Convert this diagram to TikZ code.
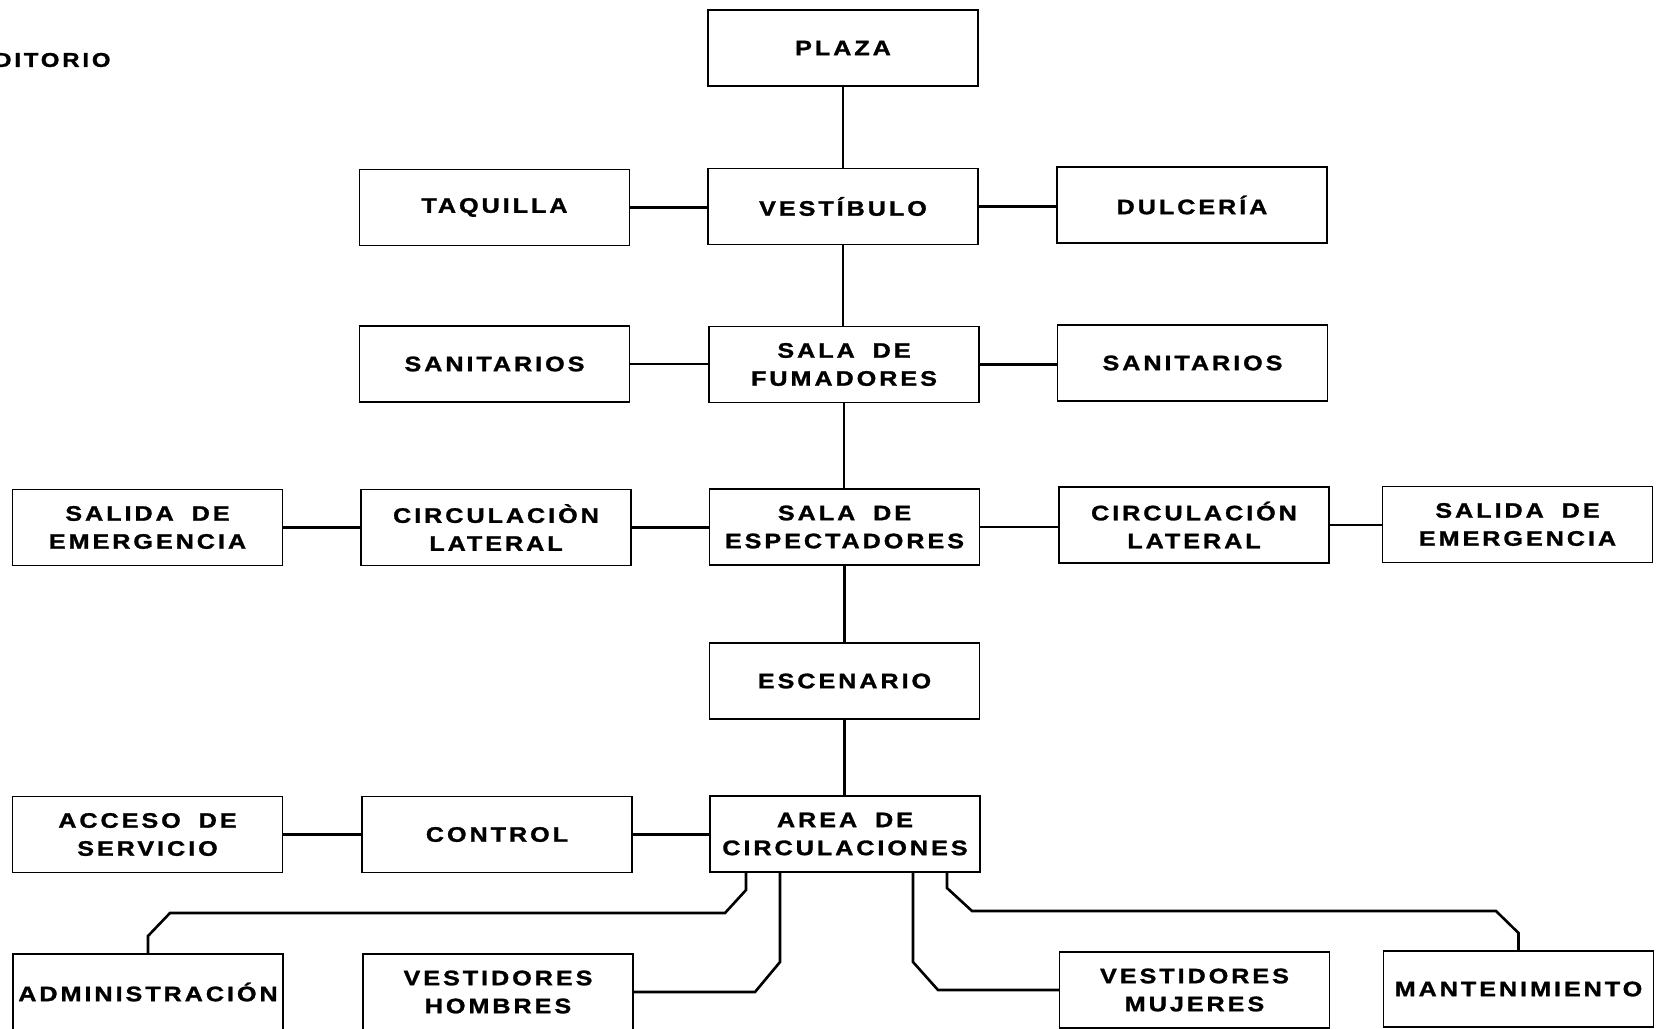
\documentclass[tikz,border=0pt]{standalone}
\usepackage{fontspec}
\newfontfamily\lblfont[LetterSpace=14, FakeStretch=1.2, FakeBold=1.3, WordSpace=1.8]{Liberation Sans Bold}
\usetikzlibrary{calc}
\begin{document}
\begin{tikzpicture}[x=1pt,y=-1pt,
  box/.style={draw=black, line width=1.3pt, minimum width=270pt, minimum height=76pt, inner sep=0pt, align=center,
    font=\lblfont\fontsize{21}{28}\selectfont},
  conn/.style={draw=black, line width=2.6pt, line join=miter}]
\useasboundingbox (0,0) rectangle (1662,1028);
\fill[white] (0,0) rectangle (1662,1028);

\node[anchor=west, inner sep=0pt, font=\lblfont\fontsize{20}{28}\selectfont] (title) at (-6,60) {DITORIO};

\node[box] (plaza) at (843,48) {PLAZA};
\node[box] (vest) at (843,206.5) {VESTÍBULO};
\node[box] (taq) at (494.5,207.5) {TAQUILLA};
\node[box] (dulc) at (1192,205) {DULCERÍA};
\node[box] (sanl) at (494.5,364) {SANITARIOS};
\node[box] (fum) at (844,364.5) {SALA DE\\FUMADORES};
\node[box] (sanr) at (1192.5,363) {SANITARIOS};
\node[box] (sall) at (147.5,527.5) {SALIDA DE\\EMERGENCIA};
\node[box] (circl) at (496,527.5) {CIRCULACIÒN\\LATERAL};
\node[box] (esp) at (844.5,527) {SALA DE\\ESPECTADORES};
\node[box] (circr) at (1194,525) {CIRCULACIÓN\\LATERAL};
\node[box] (salr) at (1517.5,524.5) {SALIDA DE\\EMERGENCIA};
\node[box] (esc) at (844.5,681) {ESCENARIO};
\node[box] (acc) at (147.5,834.5) {ACCESO DE\\SERVICIO};
\node[box] (ctrl) at (497,834.5) {CONTROL};
\node[box] (area) at (845,834) {AREA DE\\CIRCULACIONES};
\node[box] (admin) at (148,992) {ADMINISTRACIÓN};
\node[box] (vh) at (498,992) {VESTIDORES\\HOMBRES};
\node[box] (vm) at (1194.5,990) {VESTIDORES\\MUJERES};
\node[box] (mant) at (1518.5,989) {MANTENIMIENTO};

% vertical spine
\draw[conn] (plaza.south) -- (plaza.south |- vest.north);
\draw[conn] (vest.south) -- (vest.south |- fum.north);
\draw[conn] (fum.south) -- (fum.south |- esp.north);
\draw[conn] (esp.south) -- (esp.south |- esc.north);
\draw[conn] (esc.south) -- (esc.south |- area.north);

% horizontal links
\draw[conn] (taq.east) -- (taq.east -| vest.west);
\draw[conn] (vest.east) -- (vest.east -| dulc.west);
\draw[conn] (sanl.east) -- (sanl.east -| fum.west);
\draw[conn] (fum.east) -- (fum.east -| sanr.west);
\draw[conn] (sall.east) -- (sall.east -| circl.west);
\draw[conn] (circl.east) -- (circl.east -| esp.west);
\draw[conn] (esp.east) -- (esp.east -| circr.west);
\draw[conn] (circr.east) -- (circr.east -| salr.west);
\draw[conn] (acc.east) -- (acc.east -| ctrl.west);
\draw[conn] (ctrl.east) -- (ctrl.east -| area.west);

% bottom branches
\coordinate (a1) at (746,890);
\coordinate (a2) at (725,913);
\coordinate (a3) at (170,913);
\coordinate (a4) at (148,936);
\draw[conn] (area.south -| a1) -- (a1) -- (a2) -- (a3) -- (a4) -- (admin.north);

\coordinate (h1) at (780,962);
\coordinate (h2) at (755,992);
\draw[conn] (area.south -| h1) -- (h1) -- (h2) -- (vh.east);

\coordinate (m1) at (913,962);
\coordinate (m2) at (938,990);
\draw[conn] (area.south -| m1) -- (m1) -- (m2) -- (vm.west);

\coordinate (t1) at (947,888);
\coordinate (t2) at (972,911);
\coordinate (t3) at (1496,911);
\coordinate (t4) at (1518.5,933);
\draw[conn] (area.south -| t1) -- (t1) -- (t2) -- (t3) -- (t4) -- (mant.north);
\end{tikzpicture}
\end{document}
